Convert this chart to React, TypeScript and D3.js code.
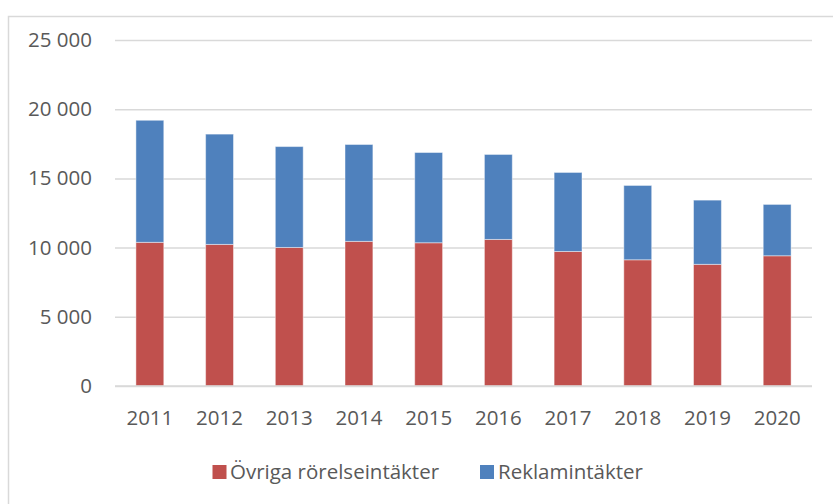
import React, { useEffect, useRef } from 'react';
import * as d3 from 'd3';

const WIDTH = 833;
const HEIGHT = 504;
const MARGIN = { top: 40, right: 21, bottom: 118, left: 115 };

const years = ['2011', '2012', '2013', '2014', '2015', '2016', '2017', '2018', '2019', '2020'];
const ovriga = [10380, 10230, 10010, 10450, 10350, 10590, 9720, 9120, 8790, 9410];
const reklam = [8820, 7970, 7290, 7000, 6520, 6140, 5710, 5370, 4640, 3710];
const yTicks = [0, 5000, 10000, 15000, 20000, 25000];

const seriesNames = ['Övriga rörelseintäkter', 'Reklamintäkter'];
const seriesColors = ['#C0504D', '#4F81BD'];

const FONT = '"Open Sans", sans-serif';
const FONT_SIZE = '20.5px';
const TEXT_COLOR = '#595959';
const GRID_COLOR = '#D9D9D9';

const sv = d3.formatLocale({ decimal: ',', thousands: ' ', grouping: [3], currency: ['', ' kr'] });
const fmt = sv.format(',d');

export default function App() {
  const yAxisRef = useRef<SVGGElement>(null);
  const xAxisRef = useRef<SVGGElement>(null);

  const innerRight = WIDTH - MARGIN.right;
  const innerBottom = HEIGHT - MARGIN.bottom;

  const x = d3.scaleBand<string>()
    .domain(years)
    .range([MARGIN.left, innerRight])
    .paddingInner(0.6)
    .paddingOuter(0.3);

  const y = d3.scaleLinear().domain([0, 25000]).range([innerBottom, MARGIN.top]);

  const rows = years.map((year, i) => ({ year, ovriga: ovriga[i], reklam: reklam[i] }));
  const stacked = d3.stack<any>().keys(['ovriga', 'reklam'])(rows);

  useEffect(() => {
    const yAxis = d3.axisLeft(y).tickValues(yTicks).tickFormat((d) => fmt(d as number))
      .tickSize(-(innerRight - MARGIN.left)).tickPadding(23);
    const g = d3.select(yAxisRef.current!);
    g.call(yAxis);
    g.select('.domain').remove();
    g.selectAll('.tick line').attr('stroke', GRID_COLOR).attr('stroke-width', 1.5);
    g.selectAll('.tick text').attr('fill', TEXT_COLOR).style('font-family', FONT).style('font-size', FONT_SIZE);

    const xAxis = d3.axisBottom(x).tickSize(0).tickPadding(24);
    const gx = d3.select(xAxisRef.current!);
    gx.call(xAxis);
    gx.select('.domain').remove();
    gx.selectAll('.tick text').attr('fill', TEXT_COLOR).style('font-family', FONT).style('font-size', FONT_SIZE);
  }, []);

  return (
    <svg width={WIDTH} height={HEIGHT} style={{ position: 'absolute', left: 0, top: 0, background: '#fff' }}>
      <rect x={8.5} y={16.5} width={WIDTH + 20} height={HEIGHT} fill="#fff" stroke={GRID_COLOR} strokeWidth={1.5} />
      <g ref={yAxisRef} transform={`translate(${MARGIN.left},0)`} />
      {stacked.map((layer, si) => (
        <g key={si} fill={seriesColors[si]}>
          {layer.map((d, i) => (
            <rect
              key={i}
              x={x(years[i])}
              y={y(d[1])}
              width={x.bandwidth()}
              height={y(d[0]) - y(d[1])}
              stroke="rgba(255,255,255,0.45)"
              strokeWidth={1}
            />
          ))}
        </g>
      ))}
      <line x1={MARGIN.left} x2={innerRight} y1={y(0)} y2={y(0)} stroke={GRID_COLOR} strokeWidth={1.5} />
      <g ref={xAxisRef} transform={`translate(0,${innerBottom})`} />
      <g style={{ fontFamily: FONT, fontSize: FONT_SIZE }} fill={TEXT_COLOR}>
        <rect x={212.5} y={465} width={14} height={14} fill={seriesColors[0]} />
        <text x={230} y={479}>{seriesNames[0]}</text>
        <rect x={480} y={465} width={14} height={14} fill={seriesColors[1]} />
        <text x={498} y={479}>{seriesNames[1]}</text>
      </g>
    </svg>
  );
}
